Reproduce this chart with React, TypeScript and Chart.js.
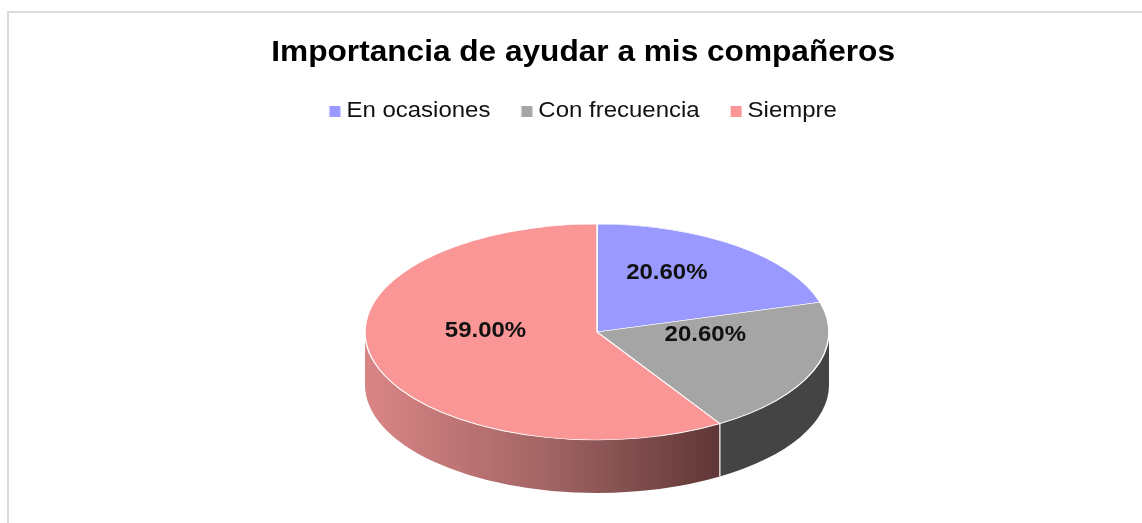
import React, { useEffect, useRef } from 'react';
import { Chart, registerables } from 'chart.js';

Chart.register(...registerables);

// ---- data ----
const TITLE = 'Importancia de ayudar a mis compañeros';
const categories = ['En ocasiones', 'Con frecuencia', 'Siempre'];
const values = [20.6, 20.6, 59.0];
const valueLabels = ['20.60%', '20.60%', '59.00%'];
const colors = ['#9999ff', '#a5a5a5', '#fa9696'];

// ---- geometry / style ----
const W = 1142;
const H = 523;
const SX = 1.09; // horizontal text stretch of the reference
const FONT = '"Liberation Sans", Arial, Helvetica, sans-serif';
const PIE = { cx: 597, cy: 332, rx: 232, ry: 108, depth: 53, labelCy: 316, labelR: 0.5 };

function makeBox(color: string): HTMLCanvasElement {
  const c = document.createElement('canvas');
  c.width = 24;
  c.height = 11;
  const g = c.getContext('2d')!;
  g.fillStyle = color;
  g.fillRect(9.7, 0, 10.1, 11);
  return c;
}

function wallStyle(ctx: CanvasRenderingContext2D, i: number): string | CanvasGradient {
  if (i === 2) {
    const g = ctx.createLinearGradient(PIE.cx - PIE.rx, 0, PIE.cx + PIE.rx * 0.55, 0);
    g.addColorStop(0, '#da8585');
    g.addColorStop(0.5, '#a36565');
    g.addColorStop(1, '#5e3535');
    return g;
  }
  if (i === 1) return '#444444';
  return '#5c5c99';
}

const pie3d = {
  id: 'pie3d',
  beforeDraw(chart: any) {
    chart.ctx.save();
    chart.ctx.scale(SX, 1);
  },
  afterDraw(chart: any) {
    chart.ctx.restore();
  },
  beforeDatasetsDraw(chart: any) {
    const ctx: CanvasRenderingContext2D = chart.ctx;
    const meta = chart.getDatasetMeta(0);
    const dpr = chart.currentDevicePixelRatio || 1;
    const { cx, cy, rx, ry, depth } = PIE;
    // side walls in page coordinates
    ctx.save();
    ctx.setTransform(dpr, 0, 0, dpr, 0, 0);
    meta.data.forEach((el: any, i: number) => {
      const a1 = Math.max(el.startAngle, 0);
      const a2 = Math.min(el.endAngle, Math.PI);
      if (a2 <= a1) return;
      ctx.beginPath();
      ctx.ellipse(cx, cy, rx, ry, 0, a1, a2, false);
      ctx.ellipse(cx, cy + depth, rx, ry, 0, a2, a1, true);
      ctx.closePath();
      ctx.fillStyle = wallStyle(ctx, i);
      ctx.fill();
    });
    ctx.strokeStyle = 'rgba(255,255,255,0.9)';
    ctx.lineWidth = 1.3;
    meta.data.forEach((el: any) => {
      const a = el.endAngle;
      if (a > 0 && a < Math.PI) {
        const x = cx + rx * Math.cos(a);
        const y = cy + ry * Math.sin(a);
        ctx.beginPath();
        ctx.moveTo(x, y);
        ctx.lineTo(x, y + depth);
        ctx.stroke();
      }
    });
    ctx.restore();
    // top face transform
    const el0 = meta.data[0];
    const r = el0.outerRadius;
    ctx.save();
    ctx.translate(cx / SX, cy);
    ctx.scale(rx / SX / r, ry / r);
    ctx.translate(-el0.x, -el0.y);
  },
  afterDatasetsDraw(chart: any) {
    const ctx: CanvasRenderingContext2D = chart.ctx;
    ctx.restore();
    const meta = chart.getDatasetMeta(0);
    ctx.save();
    ctx.font = `bold 22px ${FONT}`;
    ctx.fillStyle = '#111111';
    ctx.textAlign = 'center';
    ctx.textBaseline = 'middle';
    meta.data.forEach((el: any, i: number) => {
      const mid = (el.startAngle + el.endAngle) / 2;
      const px = PIE.cx + PIE.labelR * PIE.rx * Math.cos(mid);
      const py = PIE.labelCy + PIE.labelR * PIE.ry * Math.sin(mid);
      ctx.fillText(valueLabels[i], px / SX, py);
    });
    ctx.restore();
  },
};

export default function App() {
  const ref = useRef<HTMLCanvasElement | null>(null);

  useEffect(() => {
    if (!ref.current) return;
    const boxes = colors.map(makeBox);
    const chart = new Chart(ref.current, {
      type: 'pie',
      data: {
        labels: categories,
        datasets: [
          {
            data: values,
            backgroundColor: colors,
            borderColor: '#ffffff',
            borderWidth: 1.2,
          },
        ],
      },
      options: {
        responsive: false,
        maintainAspectRatio: false,
        animation: false,
        devicePixelRatio: 1,
        events: [],
        layout: { padding: { top: 26, left: 0, right: 72, bottom: 20 } },
        plugins: {
          title: {
            display: true,
            text: TITLE,
            color: '#000000',
            font: { family: FONT, size: 29, weight: 'bold' },
            padding: { top: 10, bottom: 1 },
          },
          legend: {
            display: true,
            position: 'top',
            labels: {
              color: '#111111',
              font: { family: FONT, size: 22 },
              usePointStyle: true,
              boxWidth: 4.6,
              boxHeight: 11,
              padding: 28.4,
              generateLabels: (c: any) => {
                const base = (Chart as any).overrides.pie.plugins.legend.labels.generateLabels(c);
                return base.map((it: any, i: number) => ({ ...it, pointStyle: boxes[i] }));
              },
            },
          },
          tooltip: { enabled: false },
        },
      },
      plugins: [pie3d],
    });
    return () => chart.destroy();
  }, []);

  return (
    <div
      style={{
        position: 'absolute',
        left: 0,
        top: 0,
        width: W,
        height: H,
        overflow: 'hidden',
        background: '#ffffff',
      }}
    >
      <div
        style={{
          position: 'absolute',
          left: 7,
          top: 11,
          width: 1300,
          height: 700,
          borderLeft: '2px solid #dadada',
          borderTop: '2px solid #dadada',
        }}
      />
      <canvas ref={ref} width={W} height={H} style={{ position: 'absolute', left: 0, top: 0 }} />
    </div>
  );
}
